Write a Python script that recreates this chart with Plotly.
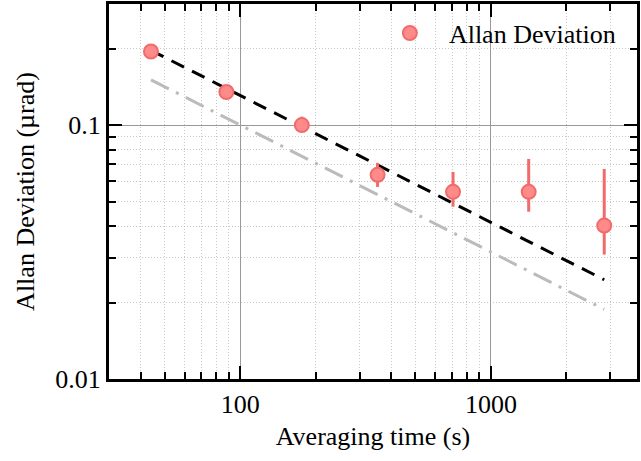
import plotly.graph_objects as go

# averaging time (s) and Allan deviation (urad)
tau = [44, 88, 176, 353, 706, 1415, 2833]
adev = [0.195, 0.135, 0.100, 0.0637, 0.0546, 0.0546, 0.0402]
err_plus = [0.003, 0.003, 0.008, 0.0073, 0.0108, 0.019, 0.027]
err_minus = [0.003, 0.003, 0.004, 0.0066, 0.0069, 0.009, 0.0093]

# reference slopes (tau^-1/2), endpoints
fit_tau = [44, 2833]
fit_black = [0.197, 0.0246]
fit_gray = [0.1508, 0.0188]

x_major = [100, 1000]
x_minor = [30, 40, 50, 60, 70, 80, 90, 200, 300, 400, 500, 600, 700, 800, 900, 2000, 3000]
y_major = [0.01, 0.1]
y_minor = [0.02, 0.03, 0.04, 0.05, 0.06, 0.07, 0.08, 0.09, 0.2, 0.3]

marker_col = '#FF8A8A'
edge_col = '#F26B6B'
font = 'Liberation Serif'
fsize = 26

fig = go.Figure()

fig.add_trace(go.Scatter(
    x=fit_tau, y=fit_black, mode='lines', showlegend=False,
    line=dict(color='black', width=3, dash='14px,9px')))
fig.add_trace(go.Scatter(
    x=fit_tau, y=fit_gray, mode='lines', showlegend=False,
    line=dict(color='#BBBBBB', width=3, dash='20px,8px,3px,8px')))

fig.add_trace(go.Scatter(
    x=tau, y=adev, mode='markers', name='Allan Deviation',
    marker=dict(size=14, color=marker_col, line=dict(color=edge_col, width=2)),
    error_y=dict(type='data', symmetric=False, array=err_plus,
                 arrayminus=err_minus, color=edge_col, thickness=3, width=0)))

axis_common = dict(
    type='log', showline=True, linecolor='black', linewidth=3,
    mirror='ticks', ticks='inside', ticklen=13, tickwidth=2, tickcolor='black',
    showgrid=True, gridcolor='#999999', gridwidth=1, zeroline=False,
    tickfont=dict(family=font, size=fsize, color='black'),
)
minor_common = dict(ticks='inside', ticklen=7, tickwidth=2, tickcolor='black',
                    showgrid=True, gridcolor='#C8C8C8', griddash='1px,2px', gridwidth=1)

fig.update_xaxes(**axis_common, range=[1.476, 3.583],
                 tickvals=x_major, ticktext=['100', '1000'],
                 minor=dict(**minor_common, tickvals=x_minor),
                 title=dict(text='Averaging time (s)', font=dict(family=font, size=fsize, color='black'),
                            standoff=9))
fig.update_yaxes(**axis_common, range=[-2, -0.523],
                 tickvals=y_major, ticktext=['0.01', '0.1'],
                 minor=dict(**minor_common, tickvals=y_minor),
                 title=dict(text='Allan Deviation (µrad)', font=dict(family=font, size=fsize, color='black'),
                            standoff=14))

fig.update_layout(
    width=641, height=461,
    margin=dict(l=109, r=1, t=3, b=82),
    paper_bgcolor='white', plot_bgcolor='white',
    legend=dict(x=0.496, y=0.985, xanchor='left', yanchor='top', itemwidth=68,
                bgcolor='rgba(0,0,0,0)', font=dict(family=font, size=fsize, color='black')),
)

fig.write_html('out.html', config={'displayModeBar': False},
               post_script="document.body.style.margin='0px';")
